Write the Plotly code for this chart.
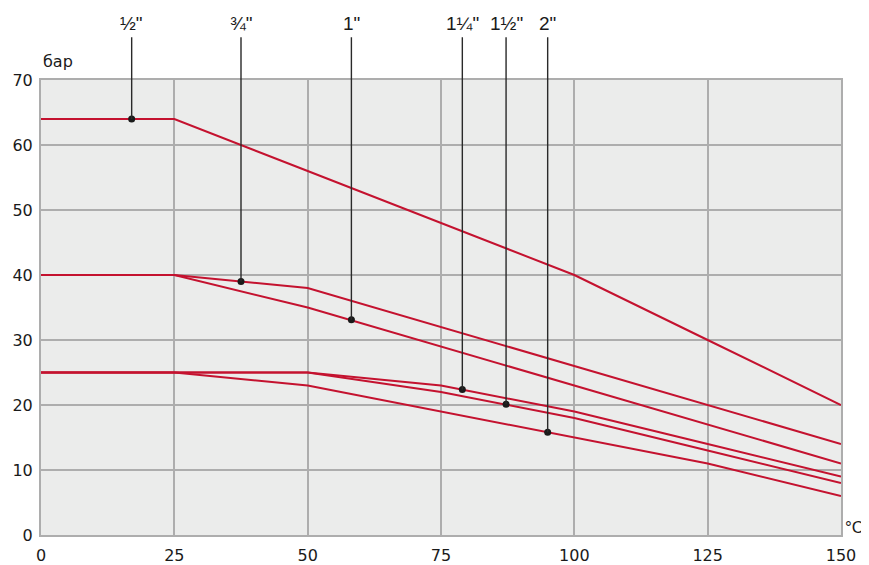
import plotly.graph_objects as go

# Temperatures (°C) and allowed pressures (bar) per pipe size
temps = [0, 25, 50, 75, 100, 125, 150]
p_half = [64, 64, 56, 48, 40, 30, 20]
p_3q = [40, 40, 38, 32, 26, 20, 14]
p_1 = [40, 40, 35, 29, 23, 17, 11]
p_1q = [25, 25, 25, 23, 19, 14, 9]
p_1h = [25, 25, 25, 22, 18, 13, 8]
p_2 = [25, 25, 23, 19, 15, 11, 6]

sizes = ['½"', '¾"', '1"', '1¼"', '1½"', '2"']
marker_t = [17, 37.5, 58.2, 79, 87.2, 95]
marker_p = [64, 39, 33.1, 22.4, 20.1, 15.8]
label_top = 76.8  # where the leader lines end, in bar

x_ticks = [0, 25, 50, 75, 100, 125, 150]
y_ticks = [0, 10, 20, 30, 40, 50, 60, 70]

RED = '#c4122f'
GRID = '#adadad'
FONT = 'DejaVu Sans, Liberation Sans, Arial, sans-serif'
LFONT = 'Liberation Sans Narrow, Liberation Sans, Arial, sans-serif'
UFONT = 'Liberation Sans, Arial, sans-serif'

fig = go.Figure()
for series in [p_half, p_3q, p_1, p_1q, p_1h, p_2]:
    fig.add_trace(go.Scatter(x=temps, y=series, mode='lines',
                             line=dict(color=RED, width=2), hoverinfo='skip',
                             showlegend=False))

fig.add_trace(go.Scatter(x=marker_t, y=marker_p, mode='markers',
                         marker=dict(color='#1a1a1a', size=7), cliponaxis=False,
                         showlegend=False))

for t, p, s in zip(marker_t, marker_p, sizes):
    fig.add_annotation(x=t, y=p, xref='x', yref='y', axref='x', ayref='y',
                       ax=t, ay=label_top, text='', showarrow=True,
                       arrowhead=0, arrowwidth=1.4, arrowcolor='#2a2a2a')
    fig.add_annotation(x=t, xref='x', y=1.125, yref='paper', text=s,
                       showarrow=False, xanchor='center', yanchor='middle',
                       font=dict(size=19, color='#1a1a1a', family=LFONT))

fig.add_annotation(x=0, xref='paper', y=1.04, yref='paper', text='бар',
                   showarrow=False, xanchor='left', yanchor='middle',
                   font=dict(size=16, color='#1a1a1a', family=FONT))
fig.add_annotation(x=1, xref='paper', y=0.016, yref='paper', text='°C',
                   showarrow=False, xanchor='left', yanchor='middle', xshift=3,
                   borderpad=0,
                   font=dict(size=17, color='#1a1a1a', family=UFONT))

axis_common = dict(showgrid=True, gridcolor=GRID, gridwidth=1.5, zeroline=False,
                   showline=True, linecolor=GRID, linewidth=2, mirror=True,
                   ticks='', automargin=False,
                   tickfont=dict(size=16, color='#1a1a1a', family=FONT))
fig.update_xaxes(range=[0, 150], tickvals=x_ticks, ticklabelstandoff=5, **axis_common)
fig.update_yaxes(range=[0, 70], tickvals=y_ticks, ticklabelstandoff=3, **axis_common)

# page body has an 8px margin, so the figure is 8px smaller than the window
fig.update_layout(width=861, height=557, margin=dict(l=33, r=28, t=72, b=30),
                  plot_bgcolor='#ebeceb', paper_bgcolor='white',
                  font=dict(family=FONT), showlegend=False)

fig.write_html('out.html')
